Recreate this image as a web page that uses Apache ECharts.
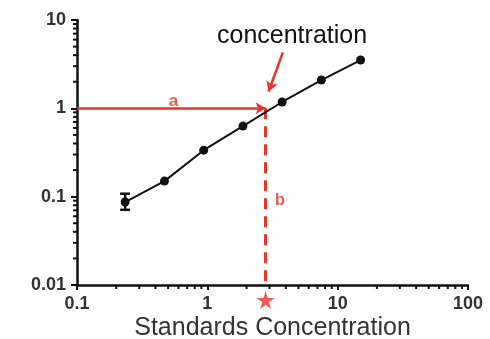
<!DOCTYPE html>
<html>
<head>
<meta charset="utf-8">
<script src="https://cdn.jsdelivr.net/npm/echarts@6/dist/echarts.min.js"></script>
<style>
	html, body { margin: 0; padding: 0; background: #fff; }
	#main { width: 490px; height: 339px; }
</style>
</head>
<body>
<div id="main"></div>
<script>
// standards (x) and measured signal (y)
var stdConc = [0.234, 0.469, 0.9375, 1.875, 3.75, 7.5, 15];
var signal = [0.087, 0.15, 0.336, 0.63, 1.18, 2.09, 3.52];
// error bar on first standard: [x, low, high]
var errBars = [[0.234, 0.071, 0.108]];
// unknown sample read-off
var sampleSignal = 1;
var sampleConc = 2.8;
// minor ticks for the log axes
var xMinor = [0.2, 0.3, 0.4, 0.5, 0.6, 0.7, 0.8, 0.9, 2, 3, 4, 5, 6, 7, 8, 9, 20, 30, 40, 50, 60, 70, 80, 90];
var yMinor = [0.02, 0.03, 0.04, 0.05, 0.06, 0.07, 0.08, 0.09, 0.2, 0.3, 0.4, 0.5, 0.6, 0.7, 0.8, 0.9, 2, 3, 4, 5, 6, 7, 8, 9];
// arrow under the "concentration" label
var calloutArrow = [[3.8, 4.3], [2.95, 1.55]];
// positions of the "a" / "b" labels (data coords)
var labelPos = [[0.55, 1.2], [3.6, 0.09]];
var labelText = ["a", "b"];

var red = "#e6352b";
var font = "Liberation Sans, Arial, sans-serif";

var chart = echarts.init(document.getElementById("main"));

var option = {
	animation: false,
	grid: { left: 77, top: 20, right: 22, bottom: 54, outerBoundsMode: "none", containLabel: false },
	xAxis: {
		type: "log",
		logBase: 10,
		min: 0.1,
		max: 100,
		name: "Standards Concentration",
		nameLocation: "middle",
		nameGap: 31,
		nameMoveOverlap: false,
		nameTextStyle: { fontFamily: font, fontSize: 25, color: "#333" },
		axisLine: { lineStyle: { color: "#111", width: 2.5 } },
		axisTick: { length: 5, lineStyle: { color: "#111", width: 2 } },
		axisLabel: { fontFamily: font, fontSize: 18, fontWeight: "bold", color: "#333", margin: 10 },
		splitLine: { show: false }
	},
	yAxis: {
		type: "log",
		logBase: 10,
		min: 0.01,
		max: 10,
		axisLine: { lineStyle: { color: "#111", width: 2.5 } },
		axisTick: { length: 6, lineStyle: { color: "#111", width: 2 } },
		axisLabel: { fontFamily: font, fontSize: 18, fontWeight: "bold", color: "#333", margin: 11 },
		splitLine: { show: false }
	},
	graphic: [
		{
			type: "text",
			left: 217,
			top: 24,
			style: { text: "concentration", font: "25px " + font, fill: "#111" }
		}
	],
	series: [
		{
			type: "line",
			data: stdConc.map(function (x, i) { return [x, signal[i]]; }),
			symbol: "circle",
			symbolSize: 9,
			itemStyle: { color: "#111" },
			lineStyle: { color: "#111", width: 2 },
			z: 5
		},
		{
			type: "custom",
			data: errBars,
			renderItem: function (params, api) {
				var lo = api.coord([api.value(0), api.value(1)]);
				var hi = api.coord([api.value(0), api.value(2)]);
				var w = 5;
				var st = { stroke: "#111", lineWidth: 2.5 };
				return {
					type: "group",
					children: [
						{ type: "line", shape: { x1: lo[0], y1: lo[1], x2: hi[0], y2: hi[1] }, style: st },
						{ type: "line", shape: { x1: lo[0] - w, y1: lo[1], x2: lo[0] + w, y2: lo[1] }, style: st },
						{ type: "line", shape: { x1: hi[0] - w, y1: hi[1], x2: hi[0] + w, y2: hi[1] }, style: st }
					]
				};
			},
			z: 6
		},
		{
			// minor ticks on x axis
			type: "custom",
			data: xMinor.map(function (v) { return [v, 0.01]; }),
			clip: false,
			silent: true,
			renderItem: function (params, api) {
				var p = api.coord([api.value(0), api.value(1)]);
				return { type: "line", shape: { x1: p[0], y1: p[1], x2: p[0], y2: p[1] + 4 }, style: { stroke: "#111", lineWidth: 2 } };
			}
		},
		{
			// minor ticks on y axis
			type: "custom",
			data: yMinor.map(function (v) { return [0.1, v]; }),
			clip: false,
			silent: true,
			renderItem: function (params, api) {
				var p = api.coord([api.value(0), api.value(1)]);
				return { type: "line", shape: { x1: p[0] - 4, y1: p[1], x2: p[0], y2: p[1] }, style: { stroke: "#111", lineWidth: 2 } };
			}
		},
		{
			type: "line",
			data: [],
			silent: true,
			markLine: {
				silent: true,
				symbol: ["none", "arrow"],
				symbolSize: [9, 10],
				label: { show: false },
				data: [
					[
						{ coord: [0.1, sampleSignal], lineStyle: { color: red, width: 2.5, type: "solid" } },
						{ coord: [sampleConc, sampleSignal] }
					],
					[
						{ coord: calloutArrow[0], lineStyle: { color: red, width: 2.5, type: "solid" } },
						{ coord: calloutArrow[1] }
					]
				]
			}
		},
		{
			type: "line",
			data: [],
			silent: true,
			markLine: {
				silent: true,
				symbol: ["none", "none"],
				label: { show: false },
				data: [
					[
						{ coord: [sampleConc, sampleSignal], lineStyle: { color: red, width: 3, type: [11, 7] } },
						{ coord: [sampleConc, 0.01] }
					]
				]
			},
			z: 4
		},
		{
			type: "scatter",
			data: [[sampleConc, 0.01]],
			symbol: "path://M50,0 L61,35 L98,35 L68,57 L79,91 L50,70 L21,91 L32,57 L2,35 L39,35 Z",
			symbolSize: 18,
			symbolOffset: [0, 15],
			itemStyle: { color: red },
			clip: false,
			silent: true
		},
		{
			// labels a and b
			type: "scatter",
			data: labelPos,
			symbolSize: 0,
			silent: true,
			label: {
				show: true,
				formatter: function (p) { return labelText[p.dataIndex]; },
				color: red,
				fontFamily: font,
				fontSize: 17,
				fontWeight: "bold",
				position: "inside"
			}
		}
	]
};

chart.setOption(option);
window.addEventListener("resize", chart.resize);
</script>
</body>
</html>
